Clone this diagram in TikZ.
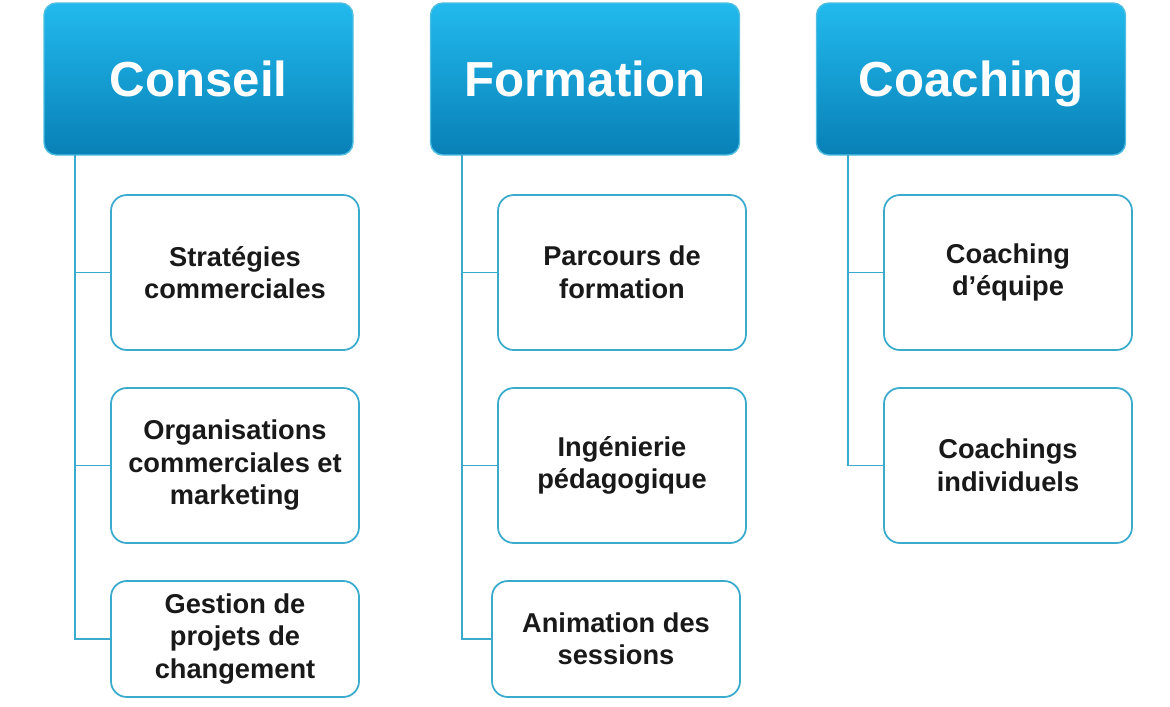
\documentclass[tikz,border=0pt]{standalone}
\usepackage{fontspec}
\setmainfont{Liberation Sans}
\usepackage{xcolor}
\usepackage{tikz}
\usetikzlibrary{positioning, calc}
\definecolor{headtop}{RGB}{34, 186, 238}
\definecolor{headbot}{RGB}{8, 128, 182}
\definecolor{headedge}{RGB}{80, 190, 225}
\definecolor{tealline}{RGB}{58, 170, 205}
\tikzstyle{header} = [
    rectangle,
    rounded corners=7pt,
    minimum width=6.18cm,
    minimum height=3.04cm,
    text height=20pt,
    text depth=0pt,
    text centered,
    draw=headedge,
    line width=0.8pt,
    top color=headtop,
    bottom color=headbot,
    text=white,
    font=\fontsize{28}{32}\selectfont\bfseries
]
\tikzstyle{task} = [
    rectangle,
    rounded corners=9pt,
    minimum width=4.96cm,
    minimum height=3.1cm,
    align=center,
    draw=tealline,
    line width=1pt,
    fill=white,
    text=black!90,
    font=\fontsize{15.5}{18.5}\selectfont\bfseries
]
\tikzstyle{link} = [
    line width=1pt,
    color=tealline
]

\begin{document}
\begin{tikzpicture}
        \useasboundingbox (0,0) rectangle (23.4,-14.14);
        % Headers
        \node[header] (conseil) at (3.97, -1.58) {Conseil};
        \node[header] (formation) at (11.7, -1.58) {Formation};
        \node[header] (coaching) at (19.42, -1.58) {Coaching};

        % Conseil
        \node[task] (strat) at (4.7, -5.45) {Stratégies\\commerciales};
        \node[task] (orga) at (4.7, -9.31) {Organisations\\commerciales et\\marketing};
        \node[task, minimum height=2.32cm] (gestion) at (4.7, -12.78) {Gestion de\\projets de\\changement};

        % Formation
        \node[task] (parcours) at (12.44, -5.45) {Parcours de\\formation};
        \node[task] (inge) at (12.44, -9.31) {Ingénierie\\pédagogique};
        \node[task, minimum height=2.32cm] (anim) at (12.32, -12.78) {Animation des\\sessions};

        % Coaching
        \node[task] (equipe) at (20.16, -5.45) {Coaching\\d’équipe};
        \node[task] (indiv) at (20.16, -9.31) {Coachings\\individuels};

        % Links
        \coordinate (conseilT) at (1.5, -3.1);
        \coordinate (formationT) at (9.24, -3.1);
        \coordinate (coachingT) at (16.96, -3.1);
        \draw[link] (conseilT) |- (strat);
        \draw[link] (conseilT) |- (orga);
        \draw[link] (conseilT) |- (gestion);
        \draw[link] (formationT) |- (parcours);
        \draw[link] (formationT) |- (inge);
        \draw[link] (formationT) |- (anim);
        \draw[link] (coachingT) |- (equipe);
        \draw[link] (coachingT) |- (indiv);
    \end{tikzpicture}
\end{document}
